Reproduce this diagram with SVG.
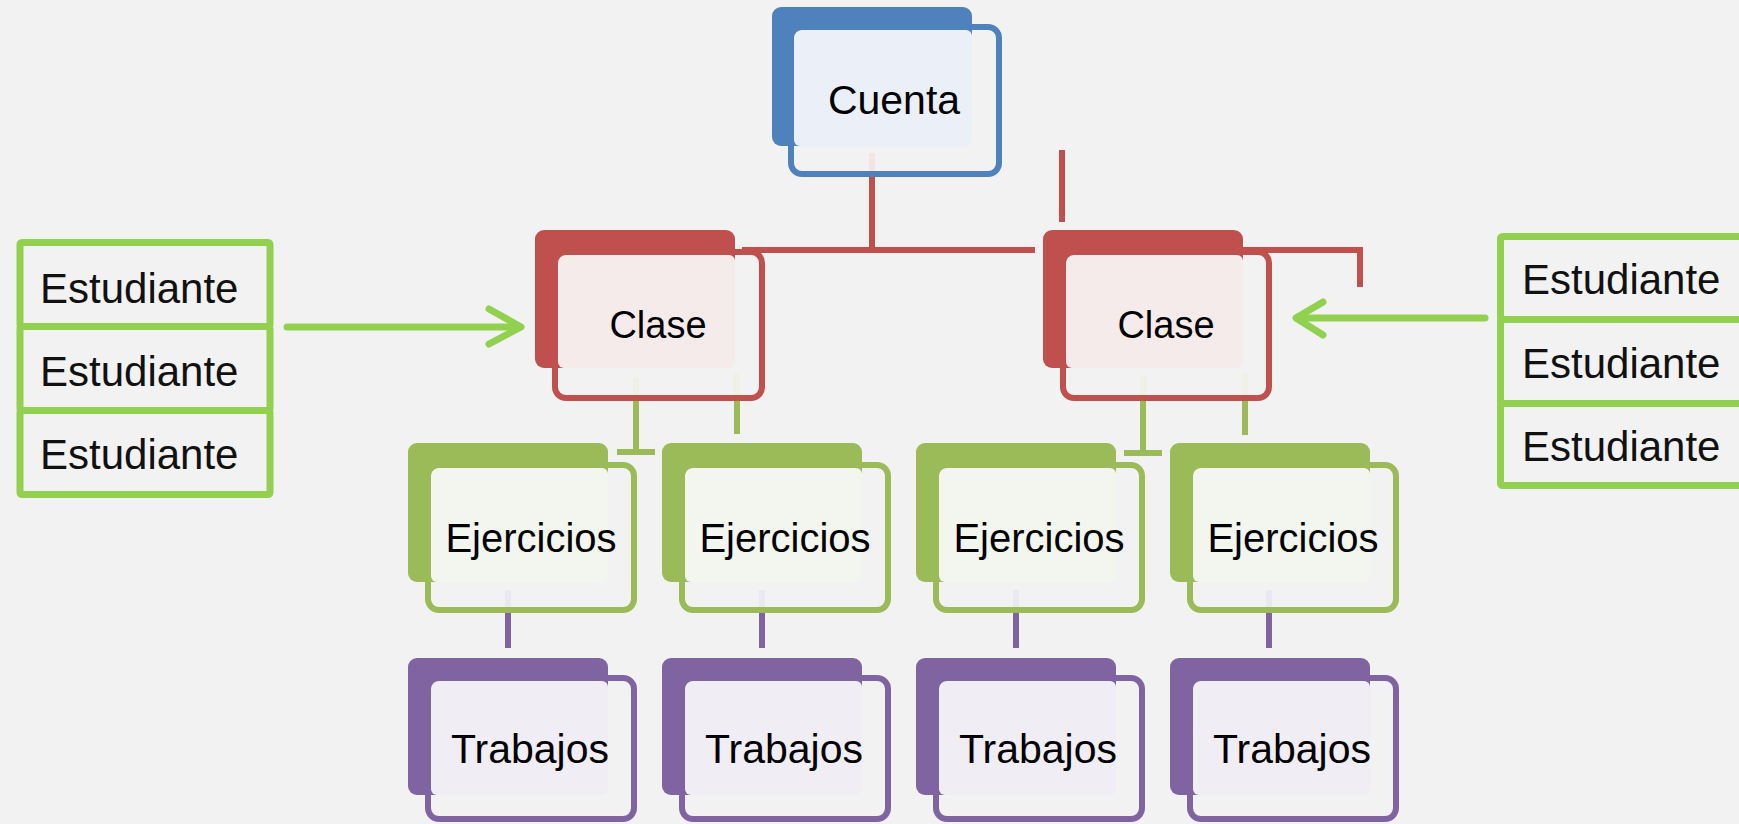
<svg xmlns="http://www.w3.org/2000/svg" width="1739" height="824" viewBox="0 0 1739 824">
<style>
.lbl{font-family:"Liberation Sans",Arial,sans-serif;font-size:40px;fill:#000;text-anchor:middle}
.lbl.cl{font-size:38px}
.lbl.tr{font-size:41px}
.lbl.cu{font-size:41px}
.est{font-family:"Liberation Sans",Arial,sans-serif;font-size:42px;fill:#111}
.frame{fill:none;stroke-width:6}
.b .bk{fill:#4F81BD}.b .lt{fill:#EBF0F8}.b .frame{stroke:#4F81BD}
.r .bk{fill:#C0504D}.r .lt{fill:#F6EBEB}.r .frame{stroke:#C0504D}
.g .bk{fill:#9BBB59}.g .lt{fill:#F3F6EE}.g .frame{stroke:#9BBB59}
.p .bk{fill:#8064A2}.p .lt{fill:#F0EEF4}.p .frame{stroke:#8064A2}
.cr{stroke:#C0504D;stroke-width:6;fill:none}
.cg{stroke:#9BBB59;stroke-width:6;fill:none}
.cp{stroke:#8064A2;stroke-width:6;fill:none}
.stub{stroke-width:6;fill:none}
.arr{stroke:#92D050;stroke-width:7;fill:none;stroke-linecap:round;stroke-linejoin:round}
.cell{fill:none;stroke:#92D050;stroke-width:7}
</style>
<rect width="1739" height="824" fill="#F2F2F2"/>

<g id="connectors">
  <line class="cr" x1="872" y1="177" x2="872" y2="250"/>
  <line class="cr" x1="742" y1="250" x2="1035" y2="250"/>
  <line class="cr" x1="1062" y1="150" x2="1062" y2="222"/>
  <polyline class="cr" points="1243,250 1360,250 1360,287"/>
  <line class="stub" stroke="#F4E4E4" x1="872" y1="153" x2="872" y2="177"/>

  <line class="cg" x1="636" y1="400" x2="636" y2="452"/>
  <line class="cg" x1="617" y1="452" x2="655" y2="452"/>
  <line class="cg" x1="737" y1="400" x2="737" y2="434"/>
  <line class="cg" x1="1143" y1="398" x2="1143" y2="453"/>
  <line class="cg" x1="1124" y1="453" x2="1162" y2="453"/>
  <line class="cg" x1="1245" y1="398" x2="1245" y2="435"/>
  <g stroke="#EEF2E6" class="stub">
    <line x1="636" y1="377" x2="636" y2="400"/>
    <line x1="737" y1="373" x2="737" y2="400"/>
    <line x1="1143" y1="376" x2="1143" y2="398"/>
    <line x1="1245" y1="373" x2="1245" y2="398"/>
  </g>

  <line class="cp" x1="508" y1="613" x2="508" y2="648"/>
  <line class="cp" x1="762" y1="613" x2="762" y2="648"/>
  <line class="cp" x1="1016" y1="613" x2="1016" y2="648"/>
  <line class="cp" x1="1269" y1="613" x2="1269" y2="648"/>
  <g stroke="#ECE8F1" class="stub">
    <line x1="508" y1="590" x2="508" y2="613"/>
    <line x1="762" y1="590" x2="762" y2="613"/>
    <line x1="1016" y1="590" x2="1016" y2="613"/>
    <line x1="1269" y1="590" x2="1269" y2="613"/>
  </g>

  <line class="arr" x1="287" y1="327" x2="520" y2="327"/>
  <polyline class="arr" points="489,309 521,327 489,344"/>
  <line class="arr" x1="1485" y1="318" x2="1297" y2="318"/>
  <polyline class="arr" points="1323,302 1296,318 1323,335"/>
</g>

<g id="cuenta" class="b">
  <rect class="bk" x="772" y="7" width="200" height="139" rx="9"/>
  <rect class="lt" x="794" y="30" width="178" height="116" rx="6"/>
  <rect class="frame" x="791" y="27" width="208" height="147" rx="11"/>
  <text class="lbl cu" x="894" y="114">Cuenta</text>
</g>

<g id="clase1" class="r">
  <rect class="bk" x="535" y="230" width="200" height="138" rx="9"/>
  <rect class="lt" x="558" y="255" width="177" height="113" rx="6"/>
  <rect class="frame" x="555" y="252" width="207" height="146" rx="11"/>
  <text class="lbl cl" x="658" y="338">Clase</text>
</g>

<g id="clase2" class="r">
  <rect class="bk" x="1043" y="230" width="200" height="138" rx="9"/>
  <rect class="lt" x="1066" y="255" width="177" height="113" rx="6"/>
  <rect class="frame" x="1063" y="252" width="206" height="146" rx="11"/>
  <text class="lbl cl" x="1166" y="338">Clase</text>
</g>

<g id="ejercicios1" class="g">
  <rect class="bk" x="408" y="443" width="200" height="139" rx="9"/>
  <rect class="lt" x="431" y="468" width="177" height="114" rx="6"/>
  <rect class="frame" x="428" y="465" width="206" height="145" rx="11"/>
  <text class="lbl" x="531" y="552">Ejercicios</text>
</g>
<g id="ejercicios2" class="g">
  <rect class="bk" x="662" y="443" width="200" height="139" rx="9"/>
  <rect class="lt" x="685" y="468" width="177" height="114" rx="6"/>
  <rect class="frame" x="682" y="465" width="206" height="145" rx="11"/>
  <text class="lbl" x="785" y="552">Ejercicios</text>
</g>
<g id="ejercicios3" class="g">
  <rect class="bk" x="916" y="443" width="200" height="139" rx="9"/>
  <rect class="lt" x="939" y="468" width="177" height="114" rx="6"/>
  <rect class="frame" x="936" y="465" width="206" height="145" rx="11"/>
  <text class="lbl" x="1039" y="552">Ejercicios</text>
</g>
<g id="ejercicios4" class="g">
  <rect class="bk" x="1170" y="443" width="200" height="139" rx="9"/>
  <rect class="lt" x="1193" y="468" width="177" height="114" rx="6"/>
  <rect class="frame" x="1190" y="465" width="206" height="145" rx="11"/>
  <text class="lbl" x="1293" y="552">Ejercicios</text>
</g>

<g id="trabajos1" class="p">
  <rect class="bk" x="408" y="658" width="200" height="137" rx="9"/>
  <rect class="lt" x="431" y="681" width="177" height="114" rx="6"/>
  <rect class="frame" x="428" y="678" width="206" height="141" rx="11"/>
  <text class="lbl tr" x="530" y="763">Trabajos</text>
</g>
<g id="trabajos2" class="p">
  <rect class="bk" x="662" y="658" width="200" height="137" rx="9"/>
  <rect class="lt" x="685" y="681" width="177" height="114" rx="6"/>
  <rect class="frame" x="682" y="678" width="206" height="141" rx="11"/>
  <text class="lbl tr" x="784" y="763">Trabajos</text>
</g>
<g id="trabajos3" class="p">
  <rect class="bk" x="916" y="658" width="200" height="137" rx="9"/>
  <rect class="lt" x="939" y="681" width="177" height="114" rx="6"/>
  <rect class="frame" x="936" y="678" width="206" height="141" rx="11"/>
  <text class="lbl tr" x="1038" y="763">Trabajos</text>
</g>
<g id="trabajos4" class="p">
  <rect class="bk" x="1170" y="658" width="200" height="137" rx="9"/>
  <rect class="lt" x="1193" y="681" width="177" height="114" rx="6"/>
  <rect class="frame" x="1190" y="678" width="206" height="141" rx="11"/>
  <text class="lbl tr" x="1292" y="763">Trabajos</text>
</g>

<g id="estudiantes-izq">
  <rect class="cell" x="20" y="242.5" width="250" height="84" rx="2"/>
  <rect class="cell" x="20" y="326.5" width="250" height="84" rx="2"/>
  <rect class="cell" x="20" y="410.5" width="250" height="84" rx="2"/>
  <text class="est" x="40" y="303">Estudiante</text>
  <text class="est" x="40" y="386">Estudiante</text>
  <text class="est" x="40" y="469">Estudiante</text>
</g>

<g id="estudiantes-der">
  <rect class="cell" x="1500.5" y="236.5" width="260" height="83" rx="2"/>
  <rect class="cell" x="1500.5" y="319.5" width="260" height="84" rx="2"/>
  <rect class="cell" x="1500.5" y="403.5" width="260" height="82" rx="2"/>
  <text class="est" x="1522" y="294">Estudiante</text>
  <text class="est" x="1522" y="378">Estudiante</text>
  <text class="est" x="1522" y="461">Estudiante</text>
</g>
</svg>
